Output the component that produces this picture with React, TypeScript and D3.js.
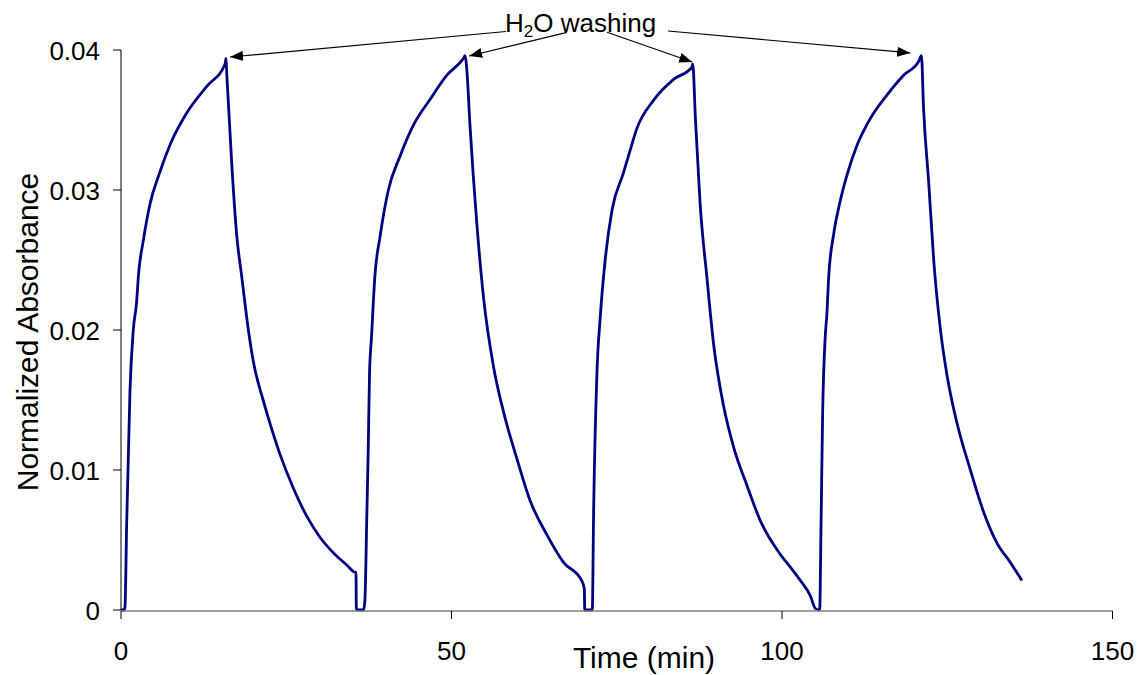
import React from "react";
import * as d3 from "d3";

// ---- Data ----
const timeMin: number[] = [
  0, 0.45, 0.6, 0.86, 1.36, 1.86, 2.38, 2.62, 3.38, 4.39, 5.9, 7.67, 9.94, 12.97, 15.74, 15.89,
  16.0, 16.75, 17.5, 18.27, 18.5, 19.27, 20.0, 21.5, 22.05, 24.07, 26.08, 28.1, 30.1, 32.1, 34.2, 35.4, 35.55, 35.6, 36.7,
  36.9, 37.2, 37.4, 37.6, 37.9, 38.4, 39.2, 40.45, 42.2, 44.2, 46.8, 49.3, 51.8, 52.07,
  52.3, 52.8, 53.8, 54.85, 56.35, 57.9, 59.9, 61.9, 64.4, 66.95, 69.7, 70.1, 70.15, 71.3,
  71.5, 72.0, 72.5, 73.25, 74.3, 76.0, 77.0, 78.05, 80.55, 83.6, 86.4, 86.5,
  86.9, 87.6, 88.65, 89.65, 91.15, 92.7, 94.7, 96.7, 99.7, 101.2, 102.8, 104.3, 105.05, 105.7,
  105.9, 106.15, 106.55, 106.8, 107.05, 107.8, 108.8, 109.85, 111.35, 113.35, 115.9, 118.4, 120.7, 121.1,
  121.4, 122.2, 122.95, 123.95, 124.95, 126.5, 128.5, 130.5, 132.5, 134.55, 136.3,
];
const absorbance: number[] = [
  0, 0, 0.0002, 0.0062, 0.0157, 0.02, 0.0221, 0.0238, 0.0264, 0.029, 0.0313, 0.0335, 0.0355, 0.0374, 0.039, 0.0394,
  0.0383, 0.0319, 0.0268, 0.0238, 0.0229, 0.02, 0.0178, 0.015, 0.0141, 0.0111, 0.0087, 0.0067, 0.0052, 0.0041, 0.0032, 0.0027, 0.0027, 0, 0,
  0.0007, 0.007, 0.0114, 0.0169, 0.0195, 0.0238, 0.0267, 0.03, 0.0324, 0.0346, 0.0365, 0.0382, 0.0394, 0.0396,
  0.0387, 0.0346, 0.0278, 0.0223, 0.0174, 0.0141, 0.0108, 0.0078, 0.0054, 0.0034, 0.0021, 0.0015, 0, 0,
  0.007, 0.0169, 0.0209, 0.025, 0.0286, 0.0312, 0.0328, 0.0344, 0.0364, 0.0379, 0.0388, 0.039,
  0.0351, 0.0291, 0.0237, 0.019, 0.0146, 0.0116, 0.0089, 0.0064, 0.004, 0.0031, 0.0021, 0.001, 0.0001, 0,
  0.0059, 0.0141, 0.0196, 0.0212, 0.0237, 0.0268, 0.0292, 0.0311, 0.0332, 0.0351, 0.0368, 0.0382, 0.0392, 0.0396,
  0.036, 0.0305, 0.025, 0.0201, 0.0168, 0.0133, 0.01, 0.007, 0.0048, 0.0034, 0.0021,
];

const xTicks: number[] = [0, 50, 100, 150];
const yTicks: number[] = [0, 0.01, 0.02, 0.03, 0.04];
const yTickLabels: string[] = ["0", "0.01", "0.02", "0.03", "0.04"];

// annotation arrow targets (time, absorbance) near each peak
const arrowTargetTime: number[] = [16.5, 52.67, 86.42, 119.4];
const arrowTargetAbs: number[] = [0.0395, 0.03957, 0.03914, 0.03979];

const xTitle = "Time (min)";
const yTitle = "Normalized Absorbance";

export default function App() {
  const W = 1144;
  const H = 675;
  const x = d3.scaleLinear().domain([0, 150]).range([121, 1112.5]);
  const y = d3.scaleLinear().domain([0, 0.04]).range([610, 50]);

  const pts: [number, number][] = timeMin.map((t, i) => [t, absorbance[i]]);
  const line = d3
    .line<[number, number]>()
    .x((d) => x(d[0]))
    .y((d) => y(d[1]))
    .curve(d3.curveMonotoneX);

  const font = "Arial, 'Liberation Sans', sans-serif";
  // start points of the arrows on the label
  const arrowStarts: [number, number][] = [
    [506, 31.5],
    [567, 32.3],
    [607, 32.3],
    [668, 31],
  ];

  return (
    <svg
      width={W}
      height={H}
      style={{ position: "absolute", left: 0, top: 0, background: "#fff" }}
      fontFamily={font}
    >
      <defs>
        <marker
          id="ah"
          markerUnits="userSpaceOnUse"
          markerWidth={14}
          markerHeight={10}
          refX={13}
          refY={5}
          orient="auto"
          viewBox="0 0 14 10"
        >
          <path d="M0,0 L13,5 L0,10 Z" fill="#000" />
        </marker>
      </defs>

      {/* data line */}
      <path d={line(pts) || ""} fill="none" stroke="#000080" strokeWidth={2.8} strokeLinejoin="round" />

      {/* y axis */}
      <line x1={x(0)} x2={x(0)} y1={y(0)} y2={y(0.04)} stroke="#000" strokeWidth={1} />
      {yTicks.map((v, i) => (
        <g key={"yt" + i}>
          <line x1={x(0) - 8} x2={x(0)} y1={y(v)} y2={y(v)} stroke="#000" strokeWidth={1} />
          <text x={100} y={y(v) + 9.5} textAnchor="end" fontSize={26} fill="#000">
            {yTickLabels[i]}
          </text>
        </g>
      ))}

      {/* x axis */}
      <line x1={x(0)} x2={x(150)} y1={y(0) + 1} y2={y(0) + 1} stroke="#808080" strokeWidth={1.5} />
      {xTicks.map((t, i) => (
        <g key={"xt" + i}>
          <line x1={x(t)} x2={x(t)} y1={y(0) + 1} y2={y(0) + 9} stroke="#000" strokeWidth={1} />
          <text x={x(t)} y={660} textAnchor="middle" fontSize={26} fill="#000">
            {String(t)}
          </text>
        </g>
      ))}

      {/* axis titles */}
      <text x={644} y={668} textAnchor="middle" fontSize={30} fill="#000">
        {xTitle}
      </text>
      <text
        transform={`translate(38, 332) rotate(-90)`}
        textAnchor="middle"
        fontSize={30}
        fill="#000"
      >
        {yTitle}
      </text>

      {/* annotation */}
      <text x={505} y={32} fontSize={26} fill="#000">
        H
        <tspan fontSize={17} dy={5}>2</tspan>
        <tspan dy={-5}>O washing</tspan>
      </text>
      {arrowTargetTime.map((t, i) => (
        <line
          key={"ar" + i}
          x1={arrowStarts[i][0]}
          y1={arrowStarts[i][1]}
          x2={x(t)}
          y2={y(arrowTargetAbs[i])}
          stroke="#000"
          strokeWidth={1.2}
          markerEnd="url(#ah)"
        />
      ))}
    </svg>
  );
}
